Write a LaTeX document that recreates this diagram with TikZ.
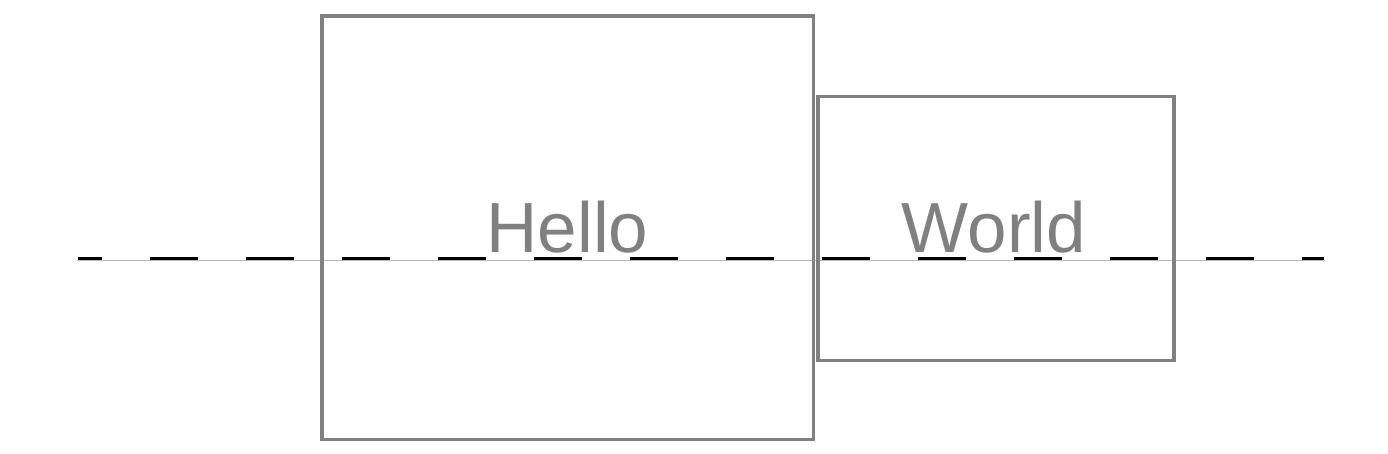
\documentclass[tikz,border=0pt]{standalone}
\usepackage{fontspec}
\setmainfont{Liberation Sans}
\definecolor{boxgray}{HTML}{808080}
\definecolor{thingray}{HTML}{B8B8B8}
\tikzset{
  box/.style={draw=boxgray, line width=3.3pt, rectangle, inner sep=0pt},
  lbl/.style={text=boxgray, font=\fontsize{71}{80}\selectfont, inner sep=0pt, anchor=base},
  baseline line/.style={draw=thingray, line width=1.1pt},
  dashline/.style={draw=black, line width=3pt, dash pattern=on 48pt off 48pt, dash phase=24pt}
}
\begin{document}
\begin{tikzpicture}[x=1pt,y=-1pt]
\useasboundingbox (0,0) rectangle (1388,454);
\coordinate (gl) at (77,260.3);
\coordinate (gr) at (1325,260.3);
\coordinate (dl) at (77.5,258.3);
\coordinate (dr) at (1324,258.3);
\draw[baseline line] (gl) -- (gr);
\draw[dashline] (dl) -- (dr);
\node[box, minimum width=491.5pt, minimum height=423.5pt] (hello) at (567.75,227.75) {};
\node[box, minimum width=356pt, minimum height=264pt] (world) at (996,228.5) {};
\node[lbl] (hellotext) at (567.5,252) {Hello};
\node[lbl] (worldtext) at (994,252) {World};
\end{tikzpicture}
\end{document}
